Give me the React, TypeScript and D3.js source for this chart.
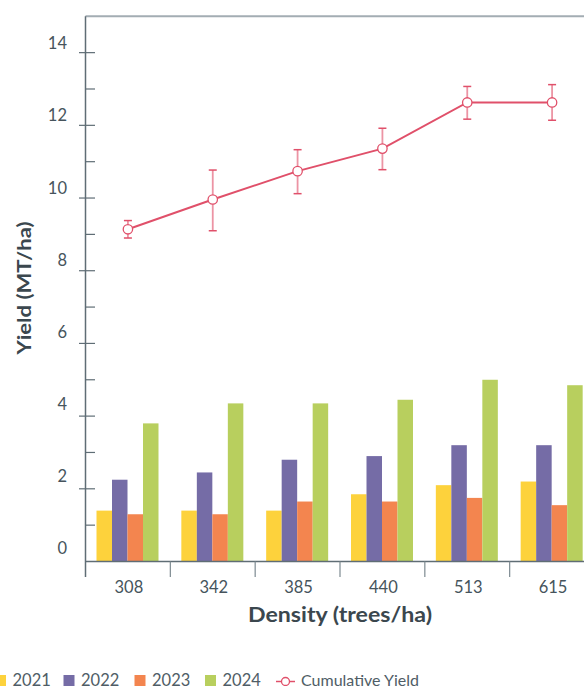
import React, { useEffect, useRef } from "react";
import * as d3 from "d3";

const densities = ["308", "342", "385", "440", "513", "615"];
const years = ["2021", "2022", "2023", "2024"];
const yield2021 = [1.4, 1.4, 1.4, 1.85, 2.1, 2.2];
const yield2022 = [2.25, 2.45, 2.8, 2.9, 3.2, 3.2];
const yield2023 = [1.3, 1.3, 1.65, 1.65, 1.75, 1.55];
const yield2024 = [3.8, 4.35, 4.35, 4.45, 5.0, 4.85];
const cumulative = [9.14, 9.96, 10.74, 11.36, 12.63, 12.63];
const cumulativeLow = [8.9, 9.1, 10.12, 10.78, 12.17, 12.14];
const cumulativeHigh = [9.38, 10.77, 11.33, 11.92, 13.07, 13.12];
const yTickLabels = [0, 2, 4, 6, 8, 10, 12, 14];
const yMinorTicks = [1, 3, 5, 7, 9, 11, 13];

const barColors = ["#fdd23c", "#756ca6", "#f3854f", "#b8cf5e"];
const lineColor = "#e0506a";
const errColor = "#ec94a4";
const textColor = "#46545c";
const axisColor = "#5f6d75";
const font = "Lato, 'Open Sans', sans-serif";

const App = () => {
  const svgRef = useRef<SVGSVGElement>(null);

  useEffect(() => {
    const svg = d3.select(svgRef.current);
    svg.selectAll("*").remove();

    const series = [yield2021, yield2022, yield2023, yield2024];

    // scales
    const x0 = d3.scaleBand().domain(densities).range([85.5, 594.5]).padding(0);
    const x1 = d3.scaleBand().domain(years).range([11, 73]);
    const y = d3.scaleLinear().domain([0, 15]).range([561.5, 16.3]);
    // tick labels sit slightly off the tick marks in the original
    const yLab = d3.scaleLinear().domain([0, 14]).range([554, 49.3]);

    // top frame line
    svg.append("line")
      .attr("x1", 85.5).attr("x2", 584)
      .attr("y1", y(15)).attr("y2", y(15))
      .attr("stroke", "#a3adb3").attr("stroke-width", 2);

    // bars
    densities.forEach((d, i) => {
      const g = svg.append("g").attr("transform", `translate(${x0(d)},0)`);
      years.forEach((yr, j) => {
        const v = series[j][i];
        g.append("rect")
          .attr("x", x1(yr)!)
          .attr("y", y(v))
          .attr("width", x1.bandwidth())
          .attr("height", y(0) - y(v))
          .attr("fill", barColors[j]);
      });
    });

    // y axis
    svg.append("line")
      .attr("x1", 85.5).attr("x2", 85.5)
      .attr("y1", y(15)).attr("y2", 577)
      .attr("stroke", axisColor).attr("stroke-width", 1.5);
    yTickLabels.filter((v) => v > 0).forEach((v) => {
      svg.append("line")
        .attr("x1", 79).attr("x2", 95)
        .attr("y1", y(v)).attr("y2", y(v))
        .attr("stroke", axisColor).attr("stroke-width", 1.2);
    });
    yMinorTicks.forEach((v) => {
      svg.append("line")
        .attr("x1", 85.5).attr("x2", 95)
        .attr("y1", y(v)).attr("y2", y(v))
        .attr("stroke", axisColor).attr("stroke-width", 1.2);
    });
    yTickLabels.forEach((v) => {
      svg.append("text")
        .attr("x", 67).attr("y", yLab(v))
        .attr("text-anchor", "end")
        .attr("font-family", font).attr("font-size", 16.5)
        .attr("fill", textColor)
        .text(v);
    });

    // x axis
    svg.append("line")
      .attr("x1", 85.5).attr("x2", 584)
      .attr("y1", y(0)).attr("y2", y(0))
      .attr("stroke", axisColor).attr("stroke-width", 1.5);
    densities.slice(1).forEach((d) => {
      svg.append("line")
        .attr("x1", x0(d)!).attr("x2", x0(d)!)
        .attr("y1", y(0)).attr("y2", 577)
        .attr("stroke", "#7d8a91").attr("stroke-width", 1.2);
    });
    densities.forEach((d) => {
      svg.append("text")
        .attr("x", x0(d)! + x0.bandwidth() / 2 + 1).attr("y", 593)
        .attr("text-anchor", "middle")
        .attr("font-family", font).attr("font-size", 16.5)
        .attr("fill", textColor)
        .text(d);
    });

    // axis titles
    svg.append("text")
      .attr("x", 340).attr("y", 622)
      .attr("text-anchor", "middle")
      .attr("font-family", font).attr("font-size", 20.5).attr("font-weight", 700)
      .attr("textLength", 184).attr("lengthAdjust", "spacingAndGlyphs")
      .attr("fill", "#3b474e")
      .text("Density (trees/ha)");
    svg.append("text")
      .attr("transform", "translate(31,288) rotate(-90)")
      .attr("text-anchor", "middle")
      .attr("font-family", font).attr("font-size", 19).attr("font-weight", 700)
      .attr("textLength", 133).attr("lengthAdjust", "spacingAndGlyphs")
      .attr("fill", "#3b474e")
      .text("Yield (MT/ha)");

    // cumulative yield line with error bars
    const cx = (i: number) => x0(densities[i])! + x0.bandwidth() / 2;
    densities.forEach((_, i) => {
      const g = svg.append("g").attr("stroke", errColor).attr("stroke-width", 1.8);
      g.append("line").attr("x1", cx(i)).attr("x2", cx(i))
        .attr("y1", y(cumulativeLow[i])).attr("y2", y(cumulativeHigh[i]));
      [cumulativeLow[i], cumulativeHigh[i]].forEach((v) => {
        g.append("line").attr("x1", cx(i) - 4).attr("x2", cx(i) + 4)
          .attr("y1", y(v)).attr("y2", y(v))
          .attr("stroke", lineColor).attr("stroke-width", 1.5);
      });
    });
    const line = d3.line<number>().x((_, i) => cx(i)).y((v) => y(v));
    svg.append("path")
      .attr("d", line(cumulative)!)
      .attr("fill", "none")
      .attr("stroke", lineColor).attr("stroke-width", 2);
    cumulative.forEach((v, i) => {
      svg.append("circle")
        .attr("cx", cx(i)).attr("cy", y(v)).attr("r", 4.7)
        .attr("fill", "#fff").attr("stroke", lineColor).attr("stroke-width", 1.3);
    });

    // legend
    const legendX = [-5, 63.5, 134.5, 205];
    years.forEach((yr, j) => {
      svg.append("rect")
        .attr("x", legendX[j]).attr("y", 675)
        .attr("width", 11).attr("height", 11)
        .attr("fill", barColors[j]);
      svg.append("text")
        .attr("x", legendX[j] + 17.5).attr("y", 686)
        .attr("font-family", font).attr("font-size", 16.5)
        .attr("fill", "#4f5d66")
        .text(yr);
    });
    svg.append("line")
      .attr("x1", 276).attr("x2", 295)
      .attr("y1", 681.5).attr("y2", 681.5)
      .attr("stroke", lineColor).attr("stroke-width", 1.5);
    svg.append("circle")
      .attr("cx", 285.5).attr("cy", 681.5).attr("r", 4)
      .attr("fill", "#fff").attr("stroke", lineColor).attr("stroke-width", 1.3);
    svg.append("text")
      .attr("x", 301).attr("y", 686)
      .attr("font-family", font).attr("font-size", 16)
      .attr("fill", "#4f5d66")
      .text("Cumulative Yield");

    return () => {
      svg.selectAll("*").remove();
    };
  }, []);

  return (
    <svg
      ref={svgRef}
      width={584}
      height={686}
      style={{ position: "absolute", left: 0, top: 0, background: "#fff" }}
    />
  );
};

export default App;
